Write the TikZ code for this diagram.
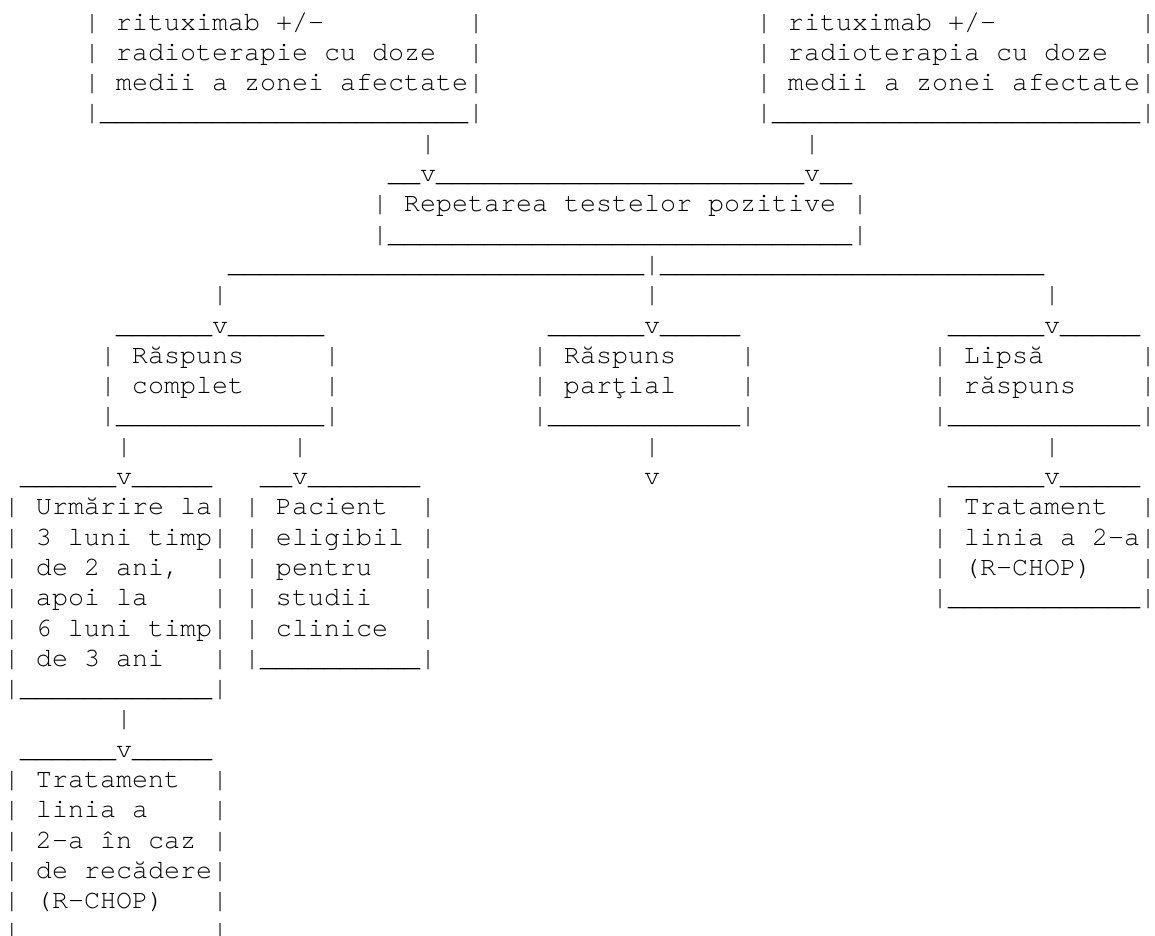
\documentclass[tikz,border=0pt]{standalone}
\usepackage{fontspec}
\newfontfamily\asciifont{texgyrecursor-regular.otf}
\ExplSyntaxOn
\NewDocumentCommand\us{m}{\prg_replicate:nn{#1}{\textunderscore}}
\ExplSyntaxOff
\tikzset{txt/.style={anchor=base west, inner sep=0pt, outer sep=0pt, text=black,
  font=\asciifont\fontsize{26.667}{30}\selectfont}}
\newcommand\piece[4]{\node[txt] (#1) at ({4+16*#3},{-(30+30.3*(#2-1))}) {#4};}
\begin{document}
\begin{tikzpicture}[x=1pt,y=1pt]
\useasboundingbox (0,0) rectangle (1155,-935);
% row 1-4 : top boxes
\piece{a1}{1}{5}{| rituximab +/-}
\piece{a1r}{1}{29}{|}
\piece{b1}{1}{47}{| rituximab +/-}
\piece{b1r}{1}{71}{|}
\piece{a2}{2}{5}{| radioterapie cu doze}
\piece{a2r}{2}{29}{|}
\piece{b2}{2}{47}{| radioterapia cu doze}
\piece{b2r}{2}{71}{|}
\piece{a3}{3}{5}{| medii a zonei afectate|}
\piece{b3}{3}{47}{| medii a zonei afectate|}
\piece{a4}{4}{5}{|\us{23}|}
\piece{b4}{4}{47}{|\us{23}|}
% rows 5-8 : Repetarea
\piece{c5a}{5}{26}{|}
\piece{c5b}{5}{50}{|}
\piece{c6}{6}{24}{\us{2}v\us{23}v\us{2}}
\piece{c7}{7}{23}{| Repetarea testelor pozitive |}
\piece{c8}{8}{23}{|\us{29}|}
% rows 9-11 : branches
\piece{d9}{9}{14}{\us{26}|\us{24}}
\piece{d10a}{10}{13}{|}
\piece{d10b}{10}{40}{|}
\piece{d10c}{10}{65}{|}
\piece{d11a}{11}{7}{\us{6}v\us{6}}
\piece{d11b}{11}{34}{\us{6}v\us{5}}
\piece{d11c}{11}{59}{\us{6}v\us{5}}
% rows 12-14 : response boxes
\piece{e12a}{12}{6}{| Răspuns}
\piece{e12ar}{12}{20}{|}
\piece{e12b}{12}{33}{| Răspuns}
\piece{e12br}{12}{46}{|}
\piece{e12c}{12}{58}{| Lipsă}
\piece{e12cr}{12}{71}{|}
\piece{e13a}{13}{6}{| complet}
\piece{e13ar}{13}{20}{|}
\piece{e13b}{13}{33}{| parţial}
\piece{e13br}{13}{46}{|}
\piece{e13c}{13}{58}{| răspuns}
\piece{e13cr}{13}{71}{|}
\piece{e14a}{14}{6}{|\us{13}|}
\piece{e14b}{14}{33}{|\us{12}|}
\piece{e14c}{14}{58}{|\us{12}|}
% rows 15-16
\piece{f15a}{15}{7}{|}
\piece{f15b}{15}{18}{|}
\piece{f15c}{15}{40}{|}
\piece{f15d}{15}{65}{|}
\piece{f16a}{16}{1}{\us{6}v\us{5}}
\piece{f16b}{16}{16}{\us{2}v\us{7}}
\piece{f16c}{16}{40}{v}
\piece{f16d}{16}{59}{\us{6}v\us{5}}
% rows 17-23
\piece{g17a}{17}{0}{| Urmărire la|}
\piece{g17b}{17}{15}{| Pacient}
\piece{g17br}{17}{26}{|}
\piece{g17c}{17}{58}{| Tratament}
\piece{g17cr}{17}{71}{|}
\piece{g18a}{18}{0}{| 3 luni timp|}
\piece{g18b}{18}{15}{| eligibil |}
\piece{g18c}{18}{58}{| linia a 2-a|}
\piece{g19a}{19}{0}{| de 2 ani,}
\piece{g19ar}{19}{13}{|}
\piece{g19b}{19}{15}{| pentru}
\piece{g19br}{19}{26}{|}
\piece{g19c}{19}{58}{| (R-CHOP)}
\piece{g19cr}{19}{71}{|}
\piece{g20a}{20}{0}{| apoi la}
\piece{g20ar}{20}{13}{|}
\piece{g20b}{20}{15}{| studii}
\piece{g20br}{20}{26}{|}
\piece{g20c}{20}{58}{|\us{12}|}
\piece{g21a}{21}{0}{| 6 luni timp|}
\piece{g21b}{21}{15}{| clinice}
\piece{g21br}{21}{26}{|}
\piece{g22a}{22}{0}{| de 3 ani}
\piece{g22ar}{22}{13}{|}
\piece{g22b}{22}{15}{|\us{10}|}
\piece{g23a}{23}{0}{|\us{12}|}
% rows 24-31
\piece{h24}{24}{7}{|}
\piece{h25}{25}{1}{\us{6}v\us{5}}
\piece{h26}{26}{0}{| Tratament}
\piece{h26r}{26}{13}{|}
\piece{h27}{27}{0}{| linia a}
\piece{h27r}{27}{13}{|}
\piece{h28}{28}{0}{| 2-a în caz}
\piece{h28r}{28}{13}{|}
\piece{h29}{29}{0}{| de recădere|}
\piece{h30}{30}{0}{| (R-CHOP)}
\piece{h30r}{30}{13}{|}
\piece{h31}{31}{0}{|}
\piece{h31r}{31}{13}{|}
\end{tikzpicture}
\end{document}
